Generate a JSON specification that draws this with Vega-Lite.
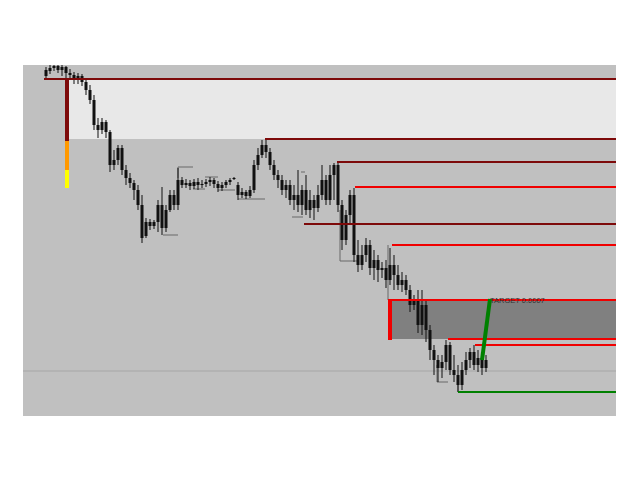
{
  "$schema": "https://vega.github.io/schema/vega-lite/v6.json",
  "width": 593,
  "height": 351,
  "autosize": {"type": "none"},
  "padding": {"left": 23, "top": 65, "right": 24, "bottom": 64},
  "background": "white",
  "config": {"view": {"fill": "#c0c0c0", "stroke": null}},
  "datasets": {
    "zones": [
      {"zone": "supply", "x": 5.5, "x2": 142.5, "y": 277, "y2": 337},
      {"zone": "target zone", "x": 86.5, "x2": 142.5, "y": 77, "y2": 116}
    ],
    "levels": [
      {"x": -0.5, "x2": 142.5, "y": 337, "role": "maroon"},
      {"x": 54.75, "x2": 142.5, "y": 277, "role": "maroon"},
      {"x": 72.75, "x2": 142.5, "y": 254, "role": "maroon"},
      {"x": 77.25, "x2": 142.5, "y": 229, "role": "red"},
      {"x": 64.5, "x2": 142.5, "y": 192, "role": "maroon"},
      {"x": 86.5, "x2": 142.5, "y": 171, "role": "red"},
      {"x": 85.5, "x2": 142.5, "y": 116, "role": "red"},
      {"x": 100.5, "x2": 142.5, "y": 77, "role": "red"},
      {"x": 107.25, "x2": 142.5, "y": 71, "role": "red"},
      {"x": 103, "x2": 142.5, "y": 24, "role": "green"}
    ],
    "columns": [
      {"x": 5.25, "y": 275, "y2": 337, "role": "maroon"},
      {"x": 5.25, "y": 246, "y2": 275, "role": "orange"},
      {"x": 5.25, "y": 228, "y2": 246, "role": "yellow"},
      {"x": 86, "y": 76, "y2": 116, "role": "red"}
    ],
    "target": [
      {"x": 109, "y": 56, "x2": 111, "y2": 117, "role": "green"}
    ],
    "brackets": [
      {"x": 33, "x2": 36.75, "y": 249, "y2": 249},
      {"x": 33, "x2": 33, "y": 249, "y2": 238},
      {"x": 29.25, "x2": 33, "y": 181, "y2": 181},
      {"x": 36.75, "x2": 39.75, "y": 227, "y2": 227},
      {"x": 39.75, "x2": 43, "y": 239, "y2": 239},
      {"x": 43, "x2": 47.25, "y": 226, "y2": 226},
      {"x": 48, "x2": 54.75, "y": 217, "y2": 217},
      {"x": 61.5, "x2": 64.25, "y": 199, "y2": 199},
      {"x": 63.75, "x2": 64.75, "y": 244, "y2": 244},
      {"x": 73.5, "x2": 77.75, "y": 155, "y2": 155},
      {"x": 73.5, "x2": 73.5, "y": 206, "y2": 155},
      {"x": 85.5, "x2": 85.5, "y": 171, "y2": 116},
      {"x": 97.75, "x2": 100.5, "y": 34, "y2": 34},
      {"x": 97.75, "x2": 97.75, "y": 51, "y2": 34},
      {"x": 103, "x2": 103, "y": 36, "y2": 24}
    ],
    "candles": [
      {"i":0,"o":340,"c":346,"h":349,"l":337},
      {"i":1,"o":345,"c":348,"h":351,"l":342},
      {"i":2,"o":348,"c":350,"h":353,"l":345},
      {"i":3,"o":350,"c":346,"h":352,"l":343},
      {"i":4,"o":346,"c":349,"h":351,"l":340},
      {"i":5,"o":349,"c":343,"h":350,"l":338},
      {"i":6,"o":343,"c":341,"h":347,"l":336},
      {"i":7,"o":341,"c":338,"h":344,"l":332},
      {"i":8,"o":338,"c":340,"h":343,"l":332},
      {"i":9,"o":340,"c":334,"h":342,"l":330},
      {"i":10,"o":334,"c":326,"h":338,"l":321},
      {"i":11,"o":326,"c":316,"h":331,"l":312},
      {"i":12,"o":316,"c":291,"h":321,"l":286},
      {"i":13,"o":291,"c":286,"h":298,"l":278},
      {"i":14,"o":286,"c":294,"h":298,"l":282},
      {"i":15,"o":294,"c":284,"h":296,"l":278},
      {"i":16,"o":284,"c":251,"h":286,"l":244},
      {"i":17,"o":251,"c":256,"h":266,"l":246},
      {"i":18,"o":256,"c":268,"h":271,"l":251},
      {"i":19,"o":268,"c":246,"h":271,"l":241},
      {"i":20,"o":246,"c":238,"h":251,"l":231},
      {"i":21,"o":238,"c":233,"h":243,"l":228},
      {"i":22,"o":233,"c":226,"h":236,"l":216},
      {"i":23,"o":226,"c":211,"h":231,"l":206},
      {"i":24,"o":211,"c":178,"h":221,"l":173},
      {"i":25,"o":180,"c":194,"h":198,"l":178},
      {"i":26,"o":194,"c":190,"h":197,"l":186},
      {"i":27,"o":190,"c":194,"h":196,"l":187},
      {"i":28,"o":194,"c":211,"h":216,"l":184},
      {"i":29,"o":211,"c":188,"h":229,"l":181},
      {"i":30,"o":188,"c":206,"h":211,"l":184},
      {"i":31,"o":206,"c":221,"h":226,"l":204},
      {"i":32,"o":221,"c":211,"h":226,"l":206},
      {"i":33,"o":211,"c":236,"h":248,"l":206},
      {"i":34,"o":236,"c":231,"h":239,"l":228},
      {"i":35,"o":231,"c":233,"h":237,"l":228},
      {"i":36,"o":233,"c":230,"h":236,"l":226},
      {"i":37,"o":230,"c":234,"h":237,"l":227},
      {"i":38,"o":234,"c":231,"h":238,"l":226},
      {"i":39,"o":231,"c":232,"h":236,"l":228},
      {"i":40,"o":232,"c":234,"h":237,"l":229},
      {"i":41,"o":234,"c":236,"h":239,"l":230},
      {"i":42,"o":236,"c":232,"h":238,"l":228},
      {"i":43,"o":232,"c":228,"h":235,"l":224},
      {"i":44,"o":228,"c":231,"h":234,"l":225},
      {"i":45,"o":231,"c":234,"h":236,"l":228},
      {"i":46,"o":234,"c":236,"h":238,"l":231},
      {"i":47,"o":237,"c":238,"h":239,"l":236},
      {"i":48,"o":231,"c":221,"h":234,"l":216},
      {"i":49,"o":221,"c":224,"h":228,"l":218},
      {"i":50,"o":224,"c":220,"h":226,"l":217},
      {"i":51,"o":220,"c":226,"h":230,"l":218},
      {"i":52,"o":226,"c":251,"h":256,"l":223},
      {"i":53,"o":251,"c":261,"h":268,"l":246},
      {"i":54,"o":261,"c":271,"h":276,"l":258},
      {"i":55,"o":271,"c":264,"h":276,"l":258},
      {"i":56,"o":264,"c":251,"h":268,"l":246},
      {"i":57,"o":251,"c":241,"h":256,"l":236},
      {"i":58,"o":241,"c":236,"h":246,"l":228},
      {"i":59,"o":236,"c":226,"h":241,"l":221},
      {"i":60,"o":226,"c":231,"h":236,"l":218},
      {"i":61,"o":231,"c":216,"h":236,"l":211},
      {"i":62,"o":216,"c":221,"h":231,"l":206},
      {"i":63,"o":221,"c":211,"h":246,"l":204},
      {"i":64,"o":211,"c":226,"h":231,"l":201},
      {"i":65,"o":226,"c":206,"h":241,"l":201},
      {"i":66,"o":206,"c":216,"h":226,"l":198},
      {"i":67,"o":216,"c":208,"h":221,"l":196},
      {"i":68,"o":208,"c":221,"h":231,"l":204},
      {"i":69,"o":221,"c":236,"h":251,"l":216},
      {"i":70,"o":236,"c":216,"h":241,"l":211},
      {"i":71,"o":216,"c":241,"h":251,"l":211},
      {"i":72,"o":241,"c":251,"h":253,"l":216},
      {"i":73,"o":251,"c":211,"h":254,"l":204},
      {"i":74,"o":211,"c":176,"h":216,"l":166},
      {"i":75,"o":176,"c":201,"h":206,"l":171},
      {"i":76,"o":201,"c":221,"h":226,"l":191},
      {"i":77,"o":221,"c":161,"h":228,"l":154},
      {"i":78,"o":161,"c":151,"h":176,"l":144},
      {"i":79,"o":151,"c":161,"h":171,"l":146},
      {"i":80,"o":161,"c":171,"h":178,"l":154},
      {"i":81,"o":171,"c":148,"h":176,"l":141},
      {"i":82,"o":148,"c":156,"h":166,"l":136},
      {"i":83,"o":156,"c":146,"h":161,"l":134},
      {"i":84,"o":146,"c":148,"h":154,"l":138},
      {"i":85,"o":148,"c":136,"h":156,"l":128},
      {"i":86,"o":136,"c":151,"h":168,"l":131},
      {"i":87,"o":151,"c":141,"h":161,"l":126},
      {"i":88,"o":141,"c":131,"h":151,"l":126},
      {"i":89,"o":131,"c":136,"h":144,"l":124},
      {"i":90,"o":136,"c":126,"h":141,"l":121},
      {"i":91,"o":126,"c":111,"h":131,"l":104},
      {"i":92,"o":111,"c":116,"h":121,"l":106},
      {"i":93,"o":116,"c":91,"h":126,"l":83},
      {"i":94,"o":91,"c":111,"h":126,"l":81},
      {"i":95,"o":111,"c":86,"h":116,"l":74},
      {"i":96,"o":86,"c":66,"h":91,"l":56},
      {"i":97,"o":66,"c":56,"h":71,"l":41},
      {"i":98,"o":56,"c":48,"h":61,"l":34},
      {"i":99,"o":48,"c":54,"h":61,"l":38},
      {"i":100,"o":54,"c":71,"h":76,"l":46},
      {"i":101,"o":71,"c":46,"h":74,"l":41},
      {"i":102,"o":46,"c":41,"h":61,"l":34},
      {"i":103,"o":41,"c":31,"h":51,"l":24},
      {"i":104,"o":31,"c":46,"h":54,"l":26},
      {"i":105,"o":46,"c":56,"h":64,"l":41},
      {"i":106,"o":56,"c":64,"h":68,"l":48},
      {"i":107,"o":64,"c":51,"h":71,"l":46},
      {"i":108,"o":51,"c":58,"h":66,"l":44},
      {"i":109,"o":58,"c":48,"h":64,"l":41},
      {"i":110,"o":48,"c":56,"h":61,"l":44}
    ]
  },
  "layer": [
    {
      "data": {"name": "zones"},
      "mark": {"type": "rect"},
      "encoding": {
        "x": {"field": "x", "type": "quantitative", "scale": {"domain": [-5.75, 142.5], "nice": false, "zero": false, "padding": 0}, "axis": null},
        "x2": {"field": "x2"},
        "y": {"field": "y", "type": "quantitative", "scale": {"domain": [0, 351], "nice": false, "zero": false, "padding": 0}, "axis": null},
        "y2": {"field": "y2"},
        "fill": {"field": "zone", "type": "nominal", "scale": {"domain": ["supply", "target zone"], "range": ["#e8e8e8", "#808080"]}, "legend": null}
      }
    },
    {
      "data": {"values": [{"y": 45}]},
      "mark": {"type": "rule", "color": "#a6a6a6", "strokeWidth": 1},
      "encoding": {
        "y": {"field": "y", "type": "quantitative", "scale": {"domain": [0, 351], "nice": false, "zero": false, "padding": 0}, "axis": null}
      }
    },
    {
      "data": {"name": "brackets"},
      "mark": {"type": "rule", "color": "#686868", "strokeWidth": 1},
      "encoding": {
        "x": {"field": "x", "type": "quantitative", "scale": {"domain": [-5.75, 142.5], "nice": false, "zero": false, "padding": 0}, "axis": null},
        "x2": {"field": "x2"},
        "y": {"field": "y", "type": "quantitative", "scale": {"domain": [0, 351], "nice": false, "zero": false, "padding": 0}, "axis": null},
        "y2": {"field": "y2"}
      }
    },
    {
      "data": {"name": "candles"},
      "mark": {"type": "rule", "color": "#111111", "strokeWidth": 1, "clip": true},
      "encoding": {
        "x": {"field": "i", "type": "quantitative", "scale": {"domain": [-5.75, 142.5], "nice": false, "zero": false, "padding": 0}, "axis": null},
        "y": {"field": "l", "type": "quantitative", "scale": {"domain": [0, 351], "nice": false, "zero": false, "padding": 0}, "axis": null},
        "y2": {"field": "h"}
      }
    },
    {
      "data": {"name": "candles"},
      "mark": {"type": "bar", "color": "#111111", "size": 3, "clip": true},
      "encoding": {
        "x": {"field": "i", "type": "quantitative", "scale": {"domain": [-5.75, 142.5], "nice": false, "zero": false, "padding": 0}, "axis": null},
        "y": {"field": "o", "type": "quantitative", "scale": {"domain": [0, 351], "nice": false, "zero": false, "padding": 0}, "axis": null},
        "y2": {"field": "c"}
      }
    },
    {
      "data": {"name": "levels"},
      "mark": {"type": "rule", "strokeWidth": 2},
      "encoding": {
        "x": {"field": "x", "type": "quantitative", "scale": {"domain": [-5.75, 142.5], "nice": false, "zero": false, "padding": 0}, "axis": null},
        "x2": {"field": "x2"},
        "y": {"field": "y", "type": "quantitative", "scale": {"domain": [0, 351], "nice": false, "zero": false, "padding": 0}, "axis": null},
        "color": {"field": "role", "type": "nominal", "scale": {"domain": ["maroon", "red", "green", "orange", "yellow"], "range": ["#7d0a0a", "#f00000", "#008000", "#ff9900", "#ffff00"]}, "legend": null}
      }
    },
    {
      "data": {"name": "columns"},
      "mark": {"type": "rule", "strokeWidth": 4},
      "encoding": {
        "x": {"field": "x", "type": "quantitative", "scale": {"domain": [-5.75, 142.5], "nice": false, "zero": false, "padding": 0}, "axis": null},
        "y": {"field": "y", "type": "quantitative", "scale": {"domain": [0, 351], "nice": false, "zero": false, "padding": 0}, "axis": null},
        "y2": {"field": "y2"},
        "color": {"field": "role", "type": "nominal", "scale": {"domain": ["maroon", "red", "green", "orange", "yellow"], "range": ["#7d0a0a", "#f00000", "#008000", "#ff9900", "#ffff00"]}, "legend": null}
      }
    },
    {
      "data": {"name": "target"},
      "mark": {"type": "rule", "strokeWidth": 4},
      "encoding": {
        "x": {"field": "x", "type": "quantitative", "scale": {"domain": [-5.75, 142.5], "nice": false, "zero": false, "padding": 0}, "axis": null},
        "x2": {"field": "x2"},
        "y": {"field": "y", "type": "quantitative", "scale": {"domain": [0, 351], "nice": false, "zero": false, "padding": 0}, "axis": null},
        "y2": {"field": "y2"},
        "color": {"field": "role", "type": "nominal", "scale": {"domain": ["maroon", "red", "green", "orange", "yellow"], "range": ["#7d0a0a", "#f00000", "#008000", "#ff9900", "#ffff00"]}, "legend": null}
      }
    },
    {
      "data": {"values": [{"x": 111, "y": 113, "label": "TARGET 0.0007"}]},
      "mark": {"type": "text", "align": "left", "baseline": "alphabetic", "fontSize": 7.5, "font": "Liberation Sans", "color": "#333333"},
      "encoding": {
        "x": {"field": "x", "type": "quantitative", "scale": {"domain": [-5.75, 142.5], "nice": false, "zero": false, "padding": 0}, "axis": null},
        "y": {"field": "y", "type": "quantitative", "scale": {"domain": [0, 351], "nice": false, "zero": false, "padding": 0}, "axis": null},
        "text": {"field": "label"}
      }
    }
  ]
}
